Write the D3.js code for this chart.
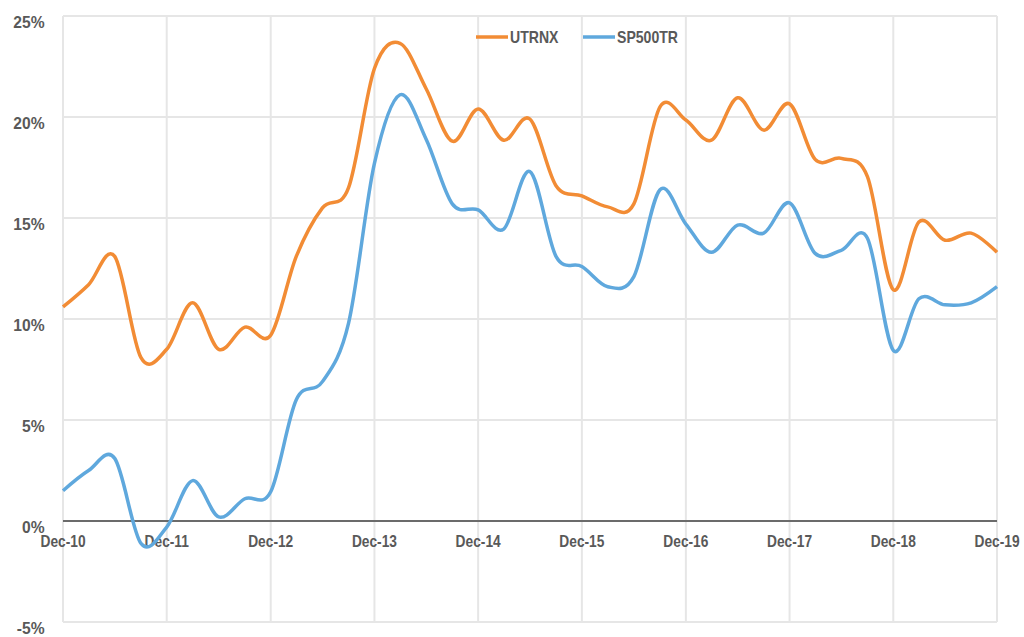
<!DOCTYPE html>
<html>
<head>
<meta charset="utf-8">
<script src="https://d3js.org/d3.v7.min.js"></script>
<style>
  body { margin: 0; background: #fff; }
  text { font-family: "Liberation Sans", Arial, sans-serif; font-weight: bold; fill: #595959; }
</style>
</head>
<body>
<div id="chart"></div>
<script>
// Quarter ends, Dec-10 to Dec-19
var quarters = [
  "2010-12", "2011-03", "2011-06", "2011-09", "2011-12", "2012-03", "2012-06", "2012-09",
  "2012-12", "2013-03", "2013-06", "2013-09", "2013-12", "2014-03", "2014-06", "2014-09",
  "2014-12", "2015-03", "2015-06", "2015-09", "2015-12", "2016-03", "2016-06", "2016-09",
  "2016-12", "2017-03", "2017-06", "2017-09", "2017-12", "2018-03", "2018-06", "2018-09",
  "2018-12", "2019-03", "2019-06", "2019-09", "2019-12"
];

// Rolling returns (%)
var utrnx = [
  10.6, 11.7, 13.1, 8.1, 8.5, 10.8, 8.5, 9.6,
  9.2, 13.1, 15.5, 16.5, 22.4, 23.65, 21.4, 18.8,
  20.4, 18.85, 19.9, 16.6, 16.1, 15.55, 15.7, 20.5,
  19.85, 18.85, 20.95, 19.35, 20.65, 17.9, 17.95, 17.05,
  11.45, 14.8, 13.9, 14.25, 13.3
];

var sp500tr = [
  1.5, 2.5, 3.1, -1.1, -0.3, 2.0, 0.2, 1.1,
  1.45, 6.0, 6.9, 9.8, 17.7, 21.1, 18.9, 15.7,
  15.4, 14.45, 17.3, 13.1, 12.6, 11.6, 12.1, 16.4,
  14.7, 13.3, 14.65, 14.25, 15.75, 13.25, 13.4, 14.0,
  8.45, 11.0, 10.7, 10.8, 11.6
];

var xTicks = ["2010-12", "2011-12", "2012-12", "2013-12", "2014-12", "2015-12",
  "2016-12", "2017-12", "2018-12", "2019-12"];
var yTicks = [-5, 0, 5, 10, 15, 20, 25];

var seriesNames = ["UTRNX", "SP500TR"];
var seriesColors = ["#F28C35", "#5FA8DD"];

var svgWidth = 1024;
var svgHeight = 637;

var margin = { top: 16, right: 27, bottom: 15, left: 63 };
var width = svgWidth - margin.left - margin.right;
var height = svgHeight - margin.top - margin.bottom;

var parseQ = d3.timeParse("%Y-%m");

var svg = d3.select("#chart")
  .append("svg")
  .attr("width", svgWidth)
  .attr("height", svgHeight);

var chartGroup = svg.append("g")
  .attr("transform", `translate(${margin.left}, ${margin.top})`);

var xScale = d3.scaleTime()
  .domain([parseQ(quarters[0]), parseQ(quarters[quarters.length - 1])])
  .range([0, width]);

var yScale = d3.scaleLinear()
  .domain([-5, 25])
  .range([height, 0]);

// vertical gridlines
chartGroup.append("g")
  .selectAll("line")
  .data(xTicks)
  .enter()
  .append("line")
  .attr("x1", d => xScale(parseQ(d)))
  .attr("x2", d => xScale(parseQ(d)))
  .attr("y1", 0)
  .attr("y2", height)
  .attr("stroke", "#e6e6e6")
  .attr("stroke-width", 2);

// horizontal gridlines
chartGroup.append("g")
  .selectAll("line")
  .data(yTicks)
  .enter()
  .append("line")
  .attr("x1", 0)
  .attr("x2", width)
  .attr("y1", d => yScale(d))
  .attr("y2", d => yScale(d))
  .attr("stroke", "#e6e6e6")
  .attr("stroke-width", 2);

// y axis labels
var leftAxis = d3.axisLeft(yScale)
  .tickValues(yTicks)
  .tickSize(0)
  .tickPadding(20)
  .tickFormat(d => d + "%");

var yAxis = chartGroup.append("g")
  .call(leftAxis);
yAxis.select(".domain").remove();
yAxis.selectAll("text")
  .attr("font-size", "17px")
  .attr("dy", "0.65em")
  .attr("transform", "scale(0.92,1)")
  .style("fill", "#595959");

// zero line
chartGroup.append("line")
  .attr("x1", 0)
  .attr("x2", width)
  .attr("y1", yScale(0))
  .attr("y2", yScale(0))
  .attr("stroke", "#6b6b6b")
  .attr("stroke-width", 2);

// x axis labels just below the zero line
var bottomAxis = d3.axisBottom(xScale)
  .tickValues(xTicks.map(parseQ))
  .tickSize(0)
  .tickPadding(15)
  .tickFormat(d3.timeFormat("%b-%y"));

var xAxis = chartGroup.append("g")
  .attr("transform", `translate(0, ${yScale(0)})`)
  .call(bottomAxis);
xAxis.select(".domain").remove();
xAxis.selectAll("text")
  .attr("font-size", "16px")
  .attr("transform", "scale(0.86,1)")
  .style("fill", "#595959");
xAxis.selectAll(".tick")
  .attr("transform", d => `translate(${xScale(d)},0)`);

// lines
var line = d3.line()
  .x(d => xScale(d.date))
  .y(d => yScale(d.value))
  .curve(d3.curveCardinal.tension(0));

var series = [utrnx, sp500tr].map(function(values, i) {
  return {
    name: seriesNames[i],
    color: seriesColors[i],
    points: values.map((v, j) => ({ date: parseQ(quarters[j]), value: v }))
  };
});

chartGroup.append("g")
  .selectAll("path")
  .data(series.slice().reverse())
  .enter()
  .append("path")
  .attr("d", d => line(d.points))
  .attr("fill", "none")
  .attr("stroke", d => d.color)
  .attr("stroke-width", 3.5)
  .attr("stroke-linejoin", "round");

// legend
var legend = svg.append("g")
  .attr("transform", "translate(476, 37)");

var legendItems = legend.selectAll("g")
  .data(series)
  .enter()
  .append("g")
  .attr("transform", (d, i) => `translate(${i * 107}, 0)`);

legendItems.append("line")
  .attr("x1", 0)
  .attr("x2", 32)
  .attr("y1", 0)
  .attr("y2", 0)
  .attr("stroke", d => d.color)
  .attr("stroke-width", 3.5);

legendItems.append("text")
  .attr("x", 34)
  .attr("y", 6)
  .attr("font-size", "16px")
  .attr("transform", "translate(34,0) scale(0.88,1) translate(-34,0)")
  .text(d => d.name);
</script>
</body>
</html>
